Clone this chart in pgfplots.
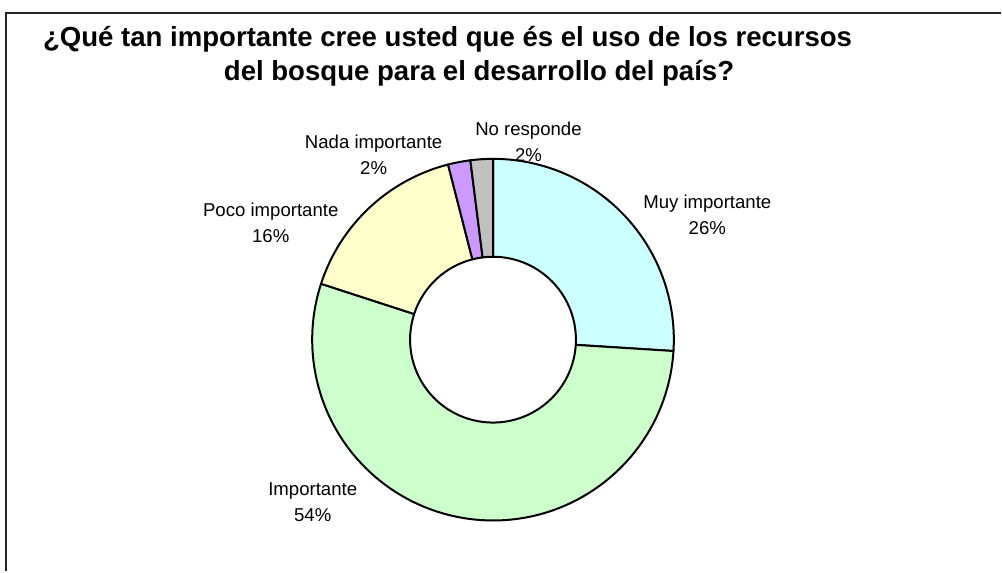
\documentclass[border=0pt]{standalone}
\usepackage{fontspec}
\setmainfont{Liberation Sans}
\usepackage{pgfplots}
\usepackage{pgfplotstable}
\pgfplotsset{compat=1.18}
\usetikzlibrary{calc}

\definecolor{muy}{HTML}{CCFFFF}
\definecolor{imp}{HTML}{CCFFCC}
\definecolor{poco}{HTML}{FFFFCC}
\definecolor{nada}{HTML}{CC99FF}
\definecolor{nores}{HTML}{C0C0C0}

% start (cumulative %) and share (%) of each slice, clockwise from 12 o'clock
\pgfplotstableread{
start pct fill
0  26 muy
26 54 imp
80 16 poco
96 2  nada
98 2  nores
}\datatable

% ring segment: #1 start, #2 share, #3 colour
\newcommand\sector[3]{%
  \filldraw[fill=#3, draw=black, line width=2pt, line join=round]
    ($(axis cs:493.5,232)+({90-3.6*#1}:181pt)$)
    arc[start angle={90-3.6*#1}, end angle={90-3.6*(#1+#2)}, radius=181pt]
    -- ($(axis cs:493.5,232)+({90-3.6*(#1+#2)}:83pt)$)
    arc[start angle={90-3.6*(#1+#2)}, end angle={90-3.6*#1}, radius=83pt]
    -- cycle;}

\begin{document}
\begin{tikzpicture}
\begin{axis}[
    scale only axis,
    width=1002pt, height=572pt,
    xmin=0, xmax=1002, ymin=0, ymax=572,
    axis lines=none,
    clip=false,
]
\path (axis cs:0,0) rectangle (axis cs:1002,572);
% chart frame (cropped)
\draw[line width=2pt, black!85] (axis cs:6,0) -- (axis cs:6,559) -- (axis cs:1002,559);

\pgfplotsinvokeforeach{0,...,4}{
  \pgfplotstablegetelem{#1}{start}\of\datatable \let\s\pgfplotsretval
  \pgfplotstablegetelem{#1}{pct}\of\datatable \let\p\pgfplotsretval
  \pgfplotstablegetelem{#1}{fill}\of\datatable \let\c\pgfplotsretval
  \edef\temp{\noexpand\sector{\s}{\p}{\c}}\temp
}

% title
\node[anchor=base, inner sep=0, font=\bfseries\fontsize{27.6}{33}\selectfont]
  at (axis cs:448,525) {¿Qué tan importante cree usted que és el uso de los recursos};
\node[anchor=base, inner sep=0, font=\bfseries\fontsize{27.6}{33}\selectfont]
  at (axis cs:479.5,491) {del bosque para el desarrollo del país?};

% slice labels
\begin{scope}[every node/.style={align=center, inner sep=0, font=\fontsize{18.6}{26}\selectfont}]
\node at (axis cs:708,356.5) {Muy importante\\26\%};
\node at (axis cs:529,430) {No responde\\2\%};
\node at (axis cs:374,417) {Nada importante\\2\%};
\node at (axis cs:271,349) {Poco importante\\16\%};
\node at (axis cs:313,69) {Importante\\54\%};
\end{scope}
\end{axis}
\end{tikzpicture}
\end{document}
